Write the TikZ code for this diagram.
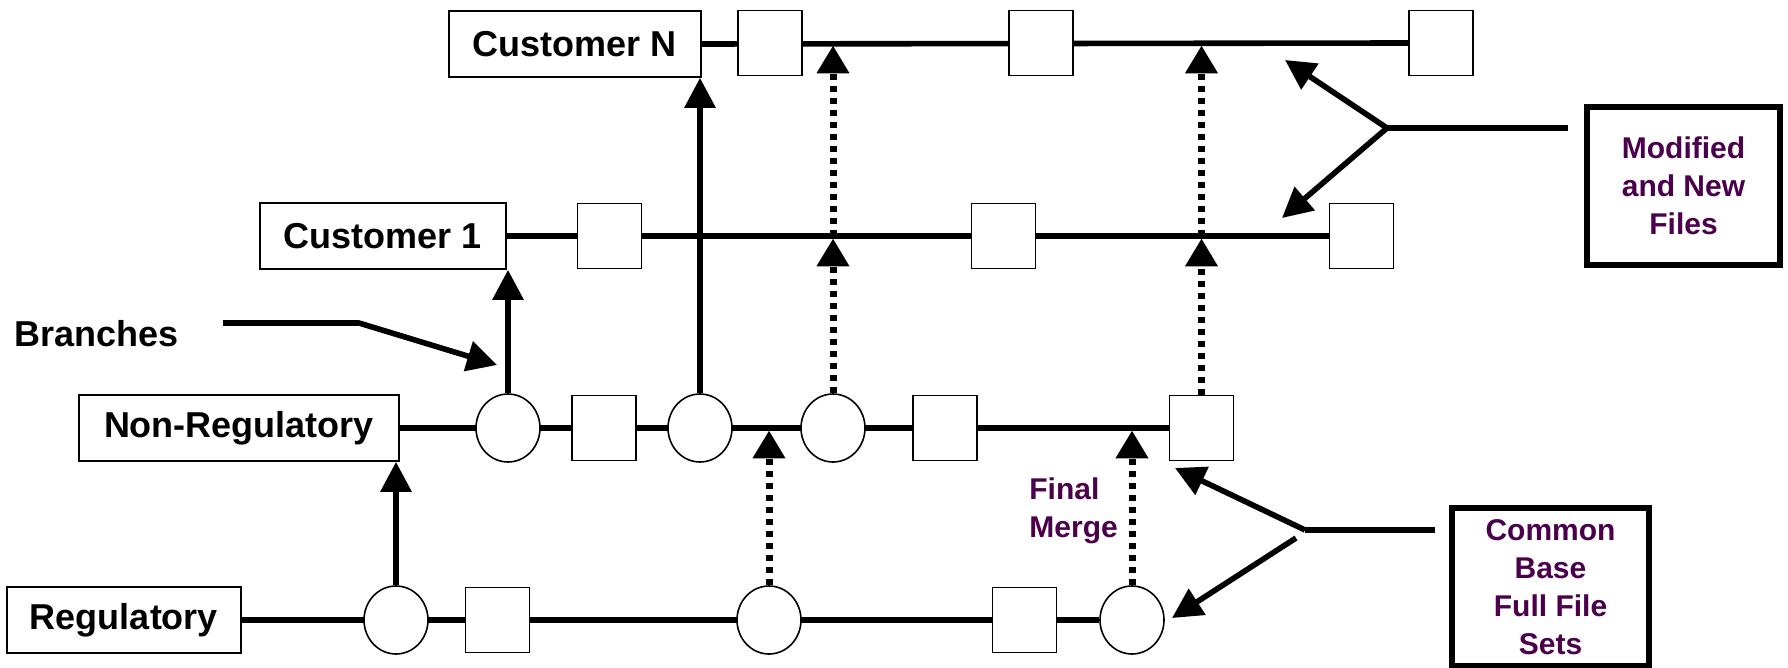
\documentclass[tikz,border=0pt]{standalone}
\usepackage{fontspec}
\setmainfont{Liberation Sans}
\usetikzlibrary{arrows.meta,shapes.geometric}
\definecolor{notepurple}{RGB}{75,0,75}
\pgfdeclarelayer{bg}
\pgfsetlayers{bg,main}

\begin{document}
\begin{tikzpicture}[x=0.5pt,y=-0.5pt,
  lbl/.style={draw,line width=0.8pt,fill=white,font=\fontsize{18}{22}\selectfont\bfseries,
    minimum height=33pt,inner sep=0pt},
  filebox/.style={draw,line width=0.8pt,fill=white,minimum width=32pt,minimum height=32.5pt,inner sep=0pt},
  tagpt/.style={draw,ellipse,line width=0.8pt,fill=white,minimum width=32pt,minimum height=34pt,inner sep=0pt},
  trunk/.style={line width=2.8pt},
  up/.style={line width=3pt,-{Triangle[length=15pt,width=15pt]}},
  merge/.style={line width=3.5pt,dash pattern=on 3pt off 3pt,shorten >=1.2pt,
    -{Triangle[length=14pt,width=15.5pt]}},
  note/.style={draw,line width=2.8pt,font=\fontsize{15}{19}\selectfont\bfseries,
    text=notepurple,align=center,inner sep=0pt},
  pointer/.style={line width=2.8pt,-{Triangle[length=15pt,width=15pt]}},
  plain/.style={font=\fontsize{18}{22}\selectfont\bfseries,inner sep=0pt},
  purple/.style={font=\fontsize{15}{19}\selectfont\bfseries,text=notepurple,inner sep=0pt}
]
\useasboundingbox (0,0) rectangle (1788,668);

% branch names
\node[lbl,minimum width=126pt] (custN) at (575,44) {Customer N};
\node[lbl,minimum width=123pt] (cust1) at (383,236) {Customer 1};
\node[lbl,minimum width=160pt] (nonreg) at (239,428) {Non-Regulatory};
\node[lbl,minimum width=117pt] (reg) at (124,620) {Regulatory};

% Customer N line
\node[filebox] (cn1) at (770,43) {};
\node[filebox] (cn2) at (1041,43) {};
\node[filebox] (cn3) at (1441,43) {};

% Customer 1 line
\node[filebox] (c11) at (609.5,236) {};
\node[filebox] (c12) at (1003.5,236) {};
\node[filebox] (c13) at (1361.5,236) {};

% Non-Regulatory line
\node[tagpt] (nr1) at (508,428) {};
\node[filebox] (nr2) at (604,428) {};
\node[tagpt] (nr3) at (700,428) {};
\node[tagpt] (nr4) at (833,428) {};
\node[filebox] (nr5) at (945,428) {};
\node[filebox] (nr6) at (1201.5,428) {};

% Regulatory line
\node[tagpt] (rg1) at (396,620) {};
\node[filebox] (rg2) at (497.5,620) {};
\node[tagpt] (rg3) at (769,620) {};
\node[filebox] (rg4) at (1024.5,620) {};
\node[tagpt] (rg5) at (1132,620) {};

\begin{pgfonlayer}{bg}
  \draw[trunk] (custN.east) -- (cn3.west);
  \draw[trunk] (cust1.east) -- (c13.west);
  \draw[trunk] (nonreg.east) -- (nr6.west);
  \draw[trunk] (reg.east) -- (rg5.west);
\end{pgfonlayer}

% branching
\draw[up] (rg1.north) -- (rg1.north |- nonreg.south);
\draw[up] (nr1.north) -- (nr1.north |- cust1.south);
\draw[up] (nr3.north) -- (nr3.north |- custN.south);

% merges
\draw[merge] (nr4.north) -- (nr4 |- c11);
\draw[merge] (nr4 |- c11) -- (nr4 |- cn1);
\draw[merge] (nr6.north) -- (nr6 |- c11);
\draw[merge] (nr6 |- c11) -- (nr6 |- cn1);
\draw[merge] (rg3.north) -- (rg3 |- nr1);
\draw[merge] (rg5.north) -- (rg5 |- nr1);

% Branches callout
\node[plain,anchor=base west] (branches) at (14,346) {Branches};
\coordinate (brA) at (223,323);
\coordinate (brB) at (359,323);
\coordinate (brT) at (497,365);
\draw[pointer,line join=round] (brA) -- (brB) -- (brT);

% Final merge label
\node[purple,anchor=north west,align=left] (finalmerge) at (1029,477) {Final\\Merge};

% Modified and New Files callout
\node[note,minimum width=96.5pt,minimum height=79pt] (modnew) at (1683.5,186) {Modified\\and New\\Files};
\coordinate (mA) at (1568,128);
\coordinate (mJ) at (1387,128);
\coordinate (mT1) at (1285,60);
\coordinate (mT2) at (1282,218);
\draw[trunk] (mA) -- (mJ);
\draw[pointer] (mJ) -- (mT1);
\draw[pointer] (mJ) -- (mT2);

% Common Base callout
\node[note,minimum width=98.5pt,minimum height=79pt] (common) at (1550.5,587) {Common\\Base\\Full File\\Sets};
\coordinate (cA) at (1435,530);
\coordinate (cJ) at (1305,530);
\coordinate (cT1) at (1175,468);
\coordinate (cB) at (1296,538);
\coordinate (cT2) at (1172,618);
\draw[trunk] (cA) -- (cJ);
\draw[pointer] (cJ) -- (cT1);
\draw[pointer] (cB) -- (cT2);
\end{tikzpicture}
\end{document}
